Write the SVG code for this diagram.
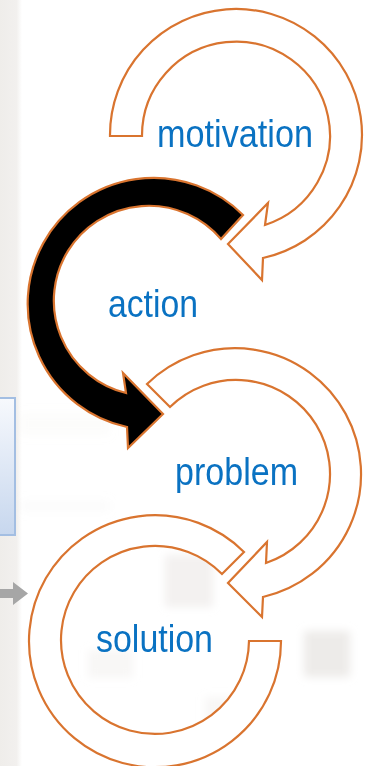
<svg xmlns="http://www.w3.org/2000/svg" width="367" height="766" viewBox="0 0 367 766">
<style>
.ring{fill:#ffffff;stroke:#d9742f;stroke-width:2.2;stroke-linejoin:miter}
.ring.dark{fill:#000000}
.lbl{font-family:"Liberation Sans Narrow","Liberation Sans",Arial,sans-serif;font-size:38px;fill:#0a72c2}
.bg{fill:#e7e4e1}
</style>
<defs>
<filter id="blur" x="-30%" y="-30%" width="160%" height="160%"><feGaussianBlur stdDeviation="4"/></filter>
<linearGradient id="boxg" x1="0" y1="0" x2="0" y2="1"><stop offset="0" stop-color="#f7f9fd"/><stop offset="1" stop-color="#c7d7ee"/></linearGradient>
<linearGradient id="stripg" x1="0" y1="0" x2="1" y2="0"><stop offset="0" stop-color="#efedea"/><stop offset="0.75" stop-color="#f2f0ee"/><stop offset="1" stop-color="#ffffff"/></linearGradient>
</defs>
<rect x="0" y="0" width="367" height="766" fill="#ffffff"/>
<rect x="0" y="0" width="22" height="766" fill="url(#stripg)"/>
<g id="background" filter="url(#blur)">
<rect class="bg" x="165" y="555" width="48" height="52" opacity="0.5"/>
<rect class="bg" x="304" y="631" width="46" height="46" opacity="0.75"/>
<rect class="bg" x="88" y="650" width="45" height="28" opacity="0.3"/>
<rect class="bg" x="205" y="697" width="30" height="33" opacity="0.3"/>
<rect class="bg" x="20" y="500" width="90" height="12" opacity="0.15"/>
<rect class="bg" x="20" y="412" width="90" height="24" opacity="0.12"/>
</g>
<g id="box">
<rect x="-5" y="398" width="20" height="137" fill="url(#boxg)" stroke="#a3bee2" stroke-width="2"/>
</g>
<g id="connectors">
<path d="M0,589 L13,589 L13,582 L28,593.5 L13,605 L13,598 L0,598 Z" fill="#a6a6a6"/>
</g>
<g id="motivation">
<path class="ring" d="M110,136 A126,126 0 1 1 263,258 L262,280 L228,244 L268,203 L265,225 A94,94 0 1 0 142,136 Z"/>
<text class="lbl" x="157" y="147" textLength="156" lengthAdjust="spacingAndGlyphs">motivation</text>
</g>
<g id="action">
<path class="ring dark" d="M243,215 A126,126 0 1 0 127,427 L128,448 L163,414 L123,373 L126,393 A95,95 0 1 1 221,239 Z"/>
<text class="lbl" x="108" y="317" textLength="90" lengthAdjust="spacingAndGlyphs">action</text>
</g>
<g id="problem">
<path class="ring" d="M147,384 A126,126 0 1 1 263,597 L262,617 L228,583 L267,542 L266,563 A94,94 0 1 0 170,407 Z"/>
<text class="lbl" x="175" y="485" textLength="123" lengthAdjust="spacingAndGlyphs">problem</text>
</g>
<g id="solution">
<path class="ring" d="M244,552 A126,126 0 1 0 281,641 L249,641 A94,94 0 1 1 222,574 Z"/>
<text class="lbl" x="96" y="652" textLength="117" lengthAdjust="spacingAndGlyphs">solution</text>
</g>
</svg>
